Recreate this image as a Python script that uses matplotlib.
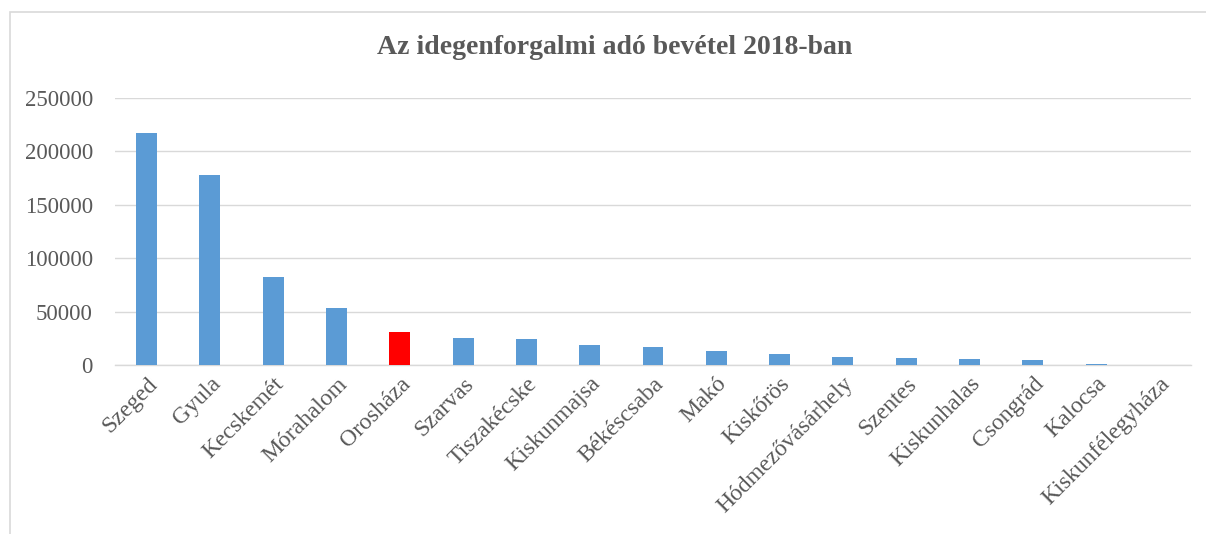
import matplotlib
matplotlib.use("Agg")
import matplotlib.pyplot as plt
from matplotlib.patches import Rectangle

categories = ["Szeged", "Gyula", "Kecskemét", "Mórahalom", "Orosháza", "Szarvas",
              "Tiszakécske", "Kiskunmajsa", "Békéscsaba", "Makó", "Kiskőrös",
              "Hódmezővásárhely", "Szentes", "Kiskunhalas", "Csongrád", "Kalocsa",
              "Kiskunfélegyháza"]
values = [217000, 178000, 82000, 53000, 31000, 25000, 24000, 19000, 16500, 13500,
          10500, 7500, 6500, 5500, 5000, 1000, 0]
highlight = "Orosháza"
yticks = [0, 50000, 100000, 150000, 200000, 250000]

W, H = 1206, 534
fig = plt.figure(figsize=(W / 100, H / 100), dpi=100)
fig.patch.set_facecolor("white")
fig.patches.append(Rectangle((10 / W, -0.1), 1.2, (H - 12) / H + 0.1,
                             transform=fig.transFigure, fill=False,
                             edgecolor="#d9d9d9", linewidth=1.2))

ax = fig.add_axes([115 / W, (H - 365) / H, (1191 - 115) / W, (365 - 98) / H])
colors = ["#ff0000" if c == highlight else "#5b9bd5" for c in categories]
x = list(range(len(categories)))
ax.bar(x, values, width=0.33, color=colors, zorder=3)
ax.set_xlim(-0.5, len(categories) - 0.5)
ax.set_ylim(0, 250000)
ax.set_yticks(yticks)
ax.set_yticklabels([str(v) for v in yticks])
ax.yaxis.grid(True, color="#d9d9d9", linewidth=1.0, zorder=0)
ax.set_xticks(x)
ax.set_xticklabels(categories, rotation=45, ha="right", rotation_mode="anchor")
for s in ["top", "right", "left"]:
    ax.spines[s].set_visible(False)
ax.spines["bottom"].set_color("#d9d9d9")
ax.spines["bottom"].set_linewidth(1.0)
ax.tick_params(axis="both", length=0, colors="#595959")
ax.tick_params(axis="y", pad=16, labelsize=16.5)
ax.tick_params(axis="x", pad=6, labelsize=17)
for lbl in ax.get_xticklabels() + ax.get_yticklabels():
    lbl.set_fontfamily("Liberation Serif")
    lbl.set_color("#595959")

fig.text(615 / W, 1 - 47 / H, "Az idegenforgalmi adó bevétel 2018-ban",
         ha="center", va="center", fontsize=20, fontweight="bold",
         color="#595959", family="Liberation Serif")

fig.savefig("out.png", dpi=100)
